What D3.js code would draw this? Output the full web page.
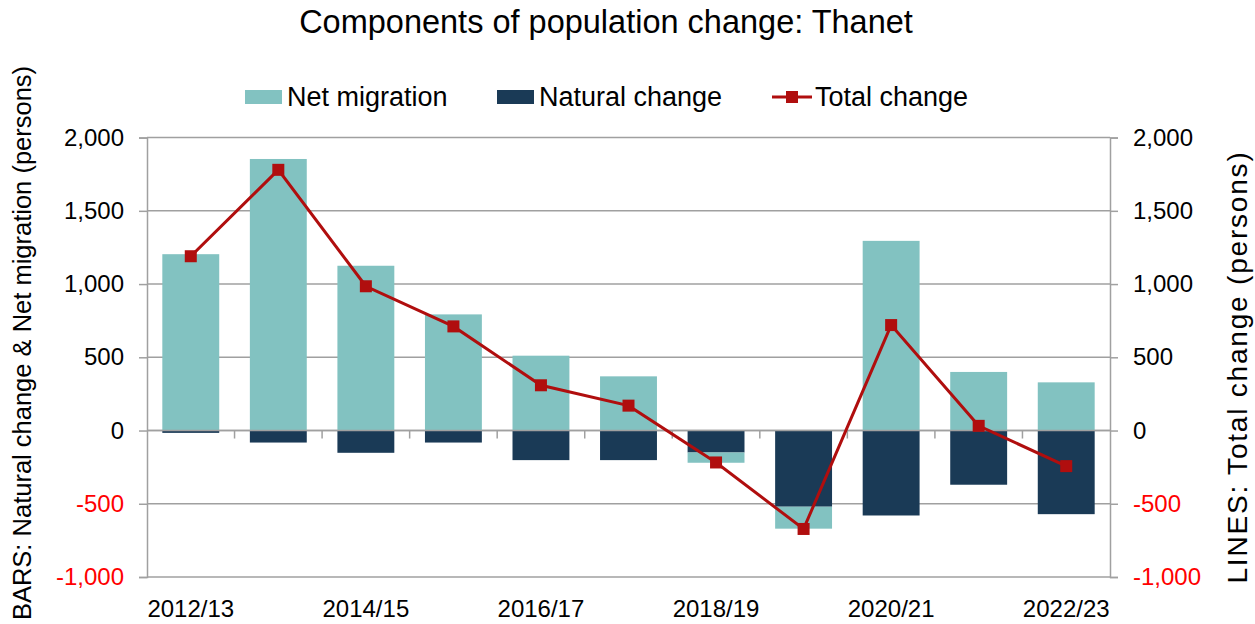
<!DOCTYPE html>
<html>
<head>
<meta charset="utf-8">
<script src="https://cdn.jsdelivr.net/npm/d3@7"></script>
<style>
  body { margin: 0; background: #fff; }
  svg { display: block; font-family: "Liberation Sans", Arial, sans-serif; }
</style>
</head>
<body>
<svg></svg>
<script>
// values (persons)
var years = ['2012/13', '2013/14', '2014/15', '2015/16', '2016/17', '2017/18',
             '2018/19', '2019/20', '2020/21', '2021/22', '2022/23'];
var naturalChange = [-16, -82, -152, -82, -202, -202, -150, -520, -580, -370, -571];
var netMigration = [1204, 1854, 1125, 793, 511, 370, -70, -150, 1295, 400, 329];
var totalChange = [1190, 1780, 985, 711, 309, 170, -218, -672, 720, 32, -243];
var yTicks = [-1000, -500, 0, 500, 1000, 1500, 2000];
var xLabelYears = ['2012/13', '2014/15', '2016/17', '2018/19', '2020/21', '2022/23'];

var width = 1255, height = 624;
var plotLeft = 147, plotRight = 1110, plotTop = 137.6, plotBottom = 577;

var teal = '#82c2c1', navy = '#1a3a56', red = '#b00e0e', grid = '#a0a0a0';

var svg = d3.select('svg').attr('width', width).attr('height', height);

var x = d3.scaleBand().domain(years).range([plotLeft, plotRight]).paddingInner(0.35).paddingOuter(0.175);
var y = d3.scaleLinear().domain([-1000, 2000]).range([plotBottom, plotTop]);

// gridlines
svg.append('g')
  .selectAll('line')
  .data(yTicks)
  .enter().append('line')
    .attr('x1', plotLeft).attr('x2', plotRight)
    .attr('y1', d => y(d)).attr('y2', d => y(d))
    .attr('stroke', grid).attr('stroke-width', 1.5);

// stacked bars, negatives stack downward from natural change
var rows = years.map(function(yr, i) {
  return { year: yr, natural: naturalChange[i], migration: netMigration[i] };
});
var stack = d3.stack().keys(['natural', 'migration']).offset(d3.stackOffsetDiverging);
var series = stack(rows);
var colors = { natural: navy, migration: teal };

svg.append('g')
  .selectAll('g')
  .data(series)
  .enter().append('g')
    .attr('fill', d => colors[d.key])
  .selectAll('rect')
  .data(d => d)
  .enter().append('rect')
    .attr('x', d => x(d.data.year))
    .attr('width', x.bandwidth())
    .attr('y', d => y(Math.max(d[0], d[1])))
    .attr('height', d => Math.abs(y(d[0]) - y(d[1])));

// zero line drawn over bars + category ticks
svg.append('line')
  .attr('x1', plotLeft).attr('x2', plotRight)
  .attr('y1', y(0)).attr('y2', y(0))
  .attr('stroke', grid).attr('stroke-width', 1.5);

var step = x.step();
svg.append('g')
  .selectAll('line')
  .data(d3.range(1, years.length))
  .enter().append('line')
    .attr('x1', i => plotLeft + step * i).attr('x2', i => plotLeft + step * i)
    .attr('y1', y(0)).attr('y2', y(0) + 8)
    .attr('stroke', grid).attr('stroke-width', 1.5);

// axes (plain hyphen for negatives, like the original)
var fmt = d => d3.format(',')(d).replace('\u2212', '-');
var yLeft = d3.axisLeft(y).tickValues(yTicks).tickSize(8).tickPadding(15).tickFormat(fmt);
var yRight = d3.axisRight(y).tickValues(yTicks).tickSize(8).tickPadding(15).tickFormat(fmt);

[[yLeft, plotLeft], [yRight, plotRight]].forEach(function(a) {
  var g = svg.append('g').attr('transform', 'translate(' + a[1] + ',0)').call(a[0]);
  g.select('.domain').attr('stroke', grid).attr('stroke-width', 1.5);
  g.selectAll('.tick line').attr('stroke', grid).attr('stroke-width', 1.5);
  g.selectAll('.tick text')
    .attr('font-size', 24)
    .attr('font-family', '"Liberation Sans", Arial, sans-serif')
    .attr('fill', d => d < 0 ? '#ff0000' : '#000');
});

// x labels
svg.append('g')
  .selectAll('text')
  .data(xLabelYears)
  .enter().append('text')
    .attr('x', d => x(d) + x.bandwidth() / 2)
    .attr('y', 617)
    .attr('text-anchor', 'middle')
    .attr('font-size', 24)
    .text(d => d);

// total change line
var line = d3.line()
  .x((d, i) => x(years[i]) + x.bandwidth() / 2)
  .y(d => y(d));

svg.append('path')
  .datum(totalChange)
  .attr('d', line)
  .attr('fill', 'none')
  .attr('stroke', red)
  .attr('stroke-width', 3);

svg.append('g')
  .selectAll('rect')
  .data(totalChange)
  .enter().append('rect')
    .attr('x', (d, i) => x(years[i]) + x.bandwidth() / 2 - 6)
    .attr('y', d => y(d) - 6)
    .attr('width', 12).attr('height', 12)
    .attr('fill', red);

// title
svg.append('text')
  .attr('x', 606).attr('y', 33)
  .attr('text-anchor', 'middle')
  .attr('font-size', 32.5)
  .text('Components of population change: Thanet');

// legend
var legend = svg.append('g').attr('font-size', 27);
legend.append('rect').attr('x', 245).attr('y', 90).attr('width', 37).attr('height', 14).attr('fill', teal);
legend.append('text').attr('x', 287).attr('y', 106).text('Net migration');
legend.append('rect').attr('x', 497).attr('y', 90).attr('width', 37).attr('height', 14).attr('fill', navy);
legend.append('text').attr('x', 539).attr('y', 106).text('Natural change');
legend.append('line').attr('x1', 772).attr('x2', 812).attr('y1', 97).attr('y2', 97)
  .attr('stroke', red).attr('stroke-width', 3);
legend.append('rect').attr('x', 786).attr('y', 91).attr('width', 12).attr('height', 12).attr('fill', red);
legend.append('text').attr('x', 815).attr('y', 106).text('Total change');

// axis titles
svg.append('text')
  .attr('transform', 'translate(31,343) rotate(-90)')
  .attr('text-anchor', 'middle')
  .attr('font-size', 25.5)
  .text('BARS: Natural change & Net migration (persons)');

svg.append('text')
  .attr('transform', 'translate(1247,367) rotate(-90)')
  .attr('text-anchor', 'middle')
  .attr('font-size', 28)
  .attr('letter-spacing', 1.8)
  .text('LINES: Total change (persons)');
</script>
</body>
</html>
